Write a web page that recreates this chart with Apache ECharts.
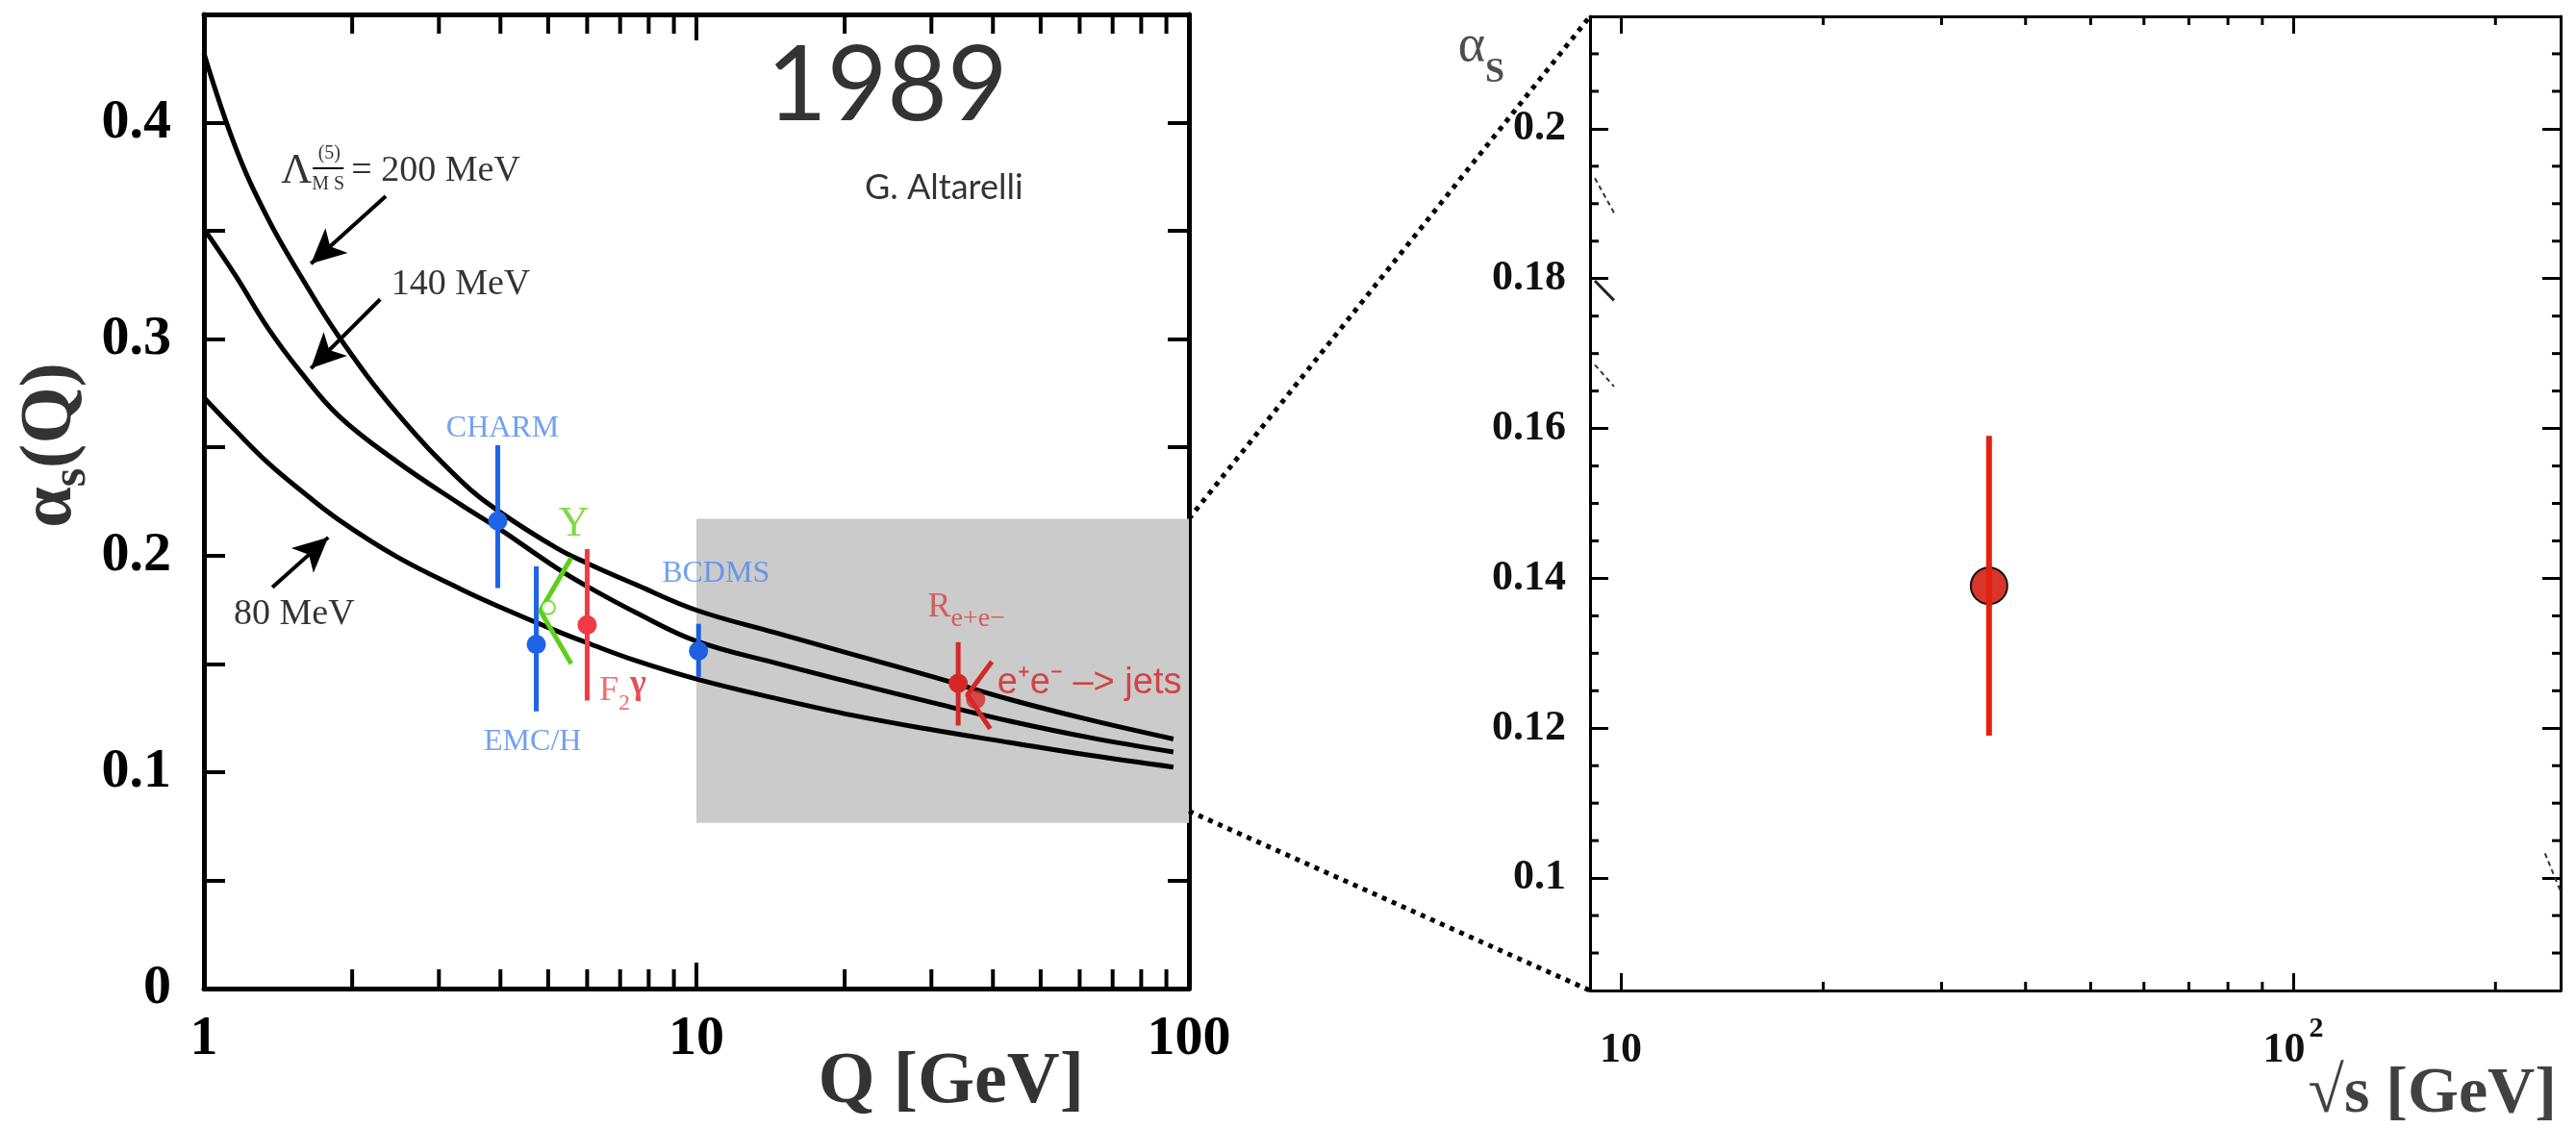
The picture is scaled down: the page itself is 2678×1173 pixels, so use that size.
<!DOCTYPE html>
<html>
<head>
<meta charset="utf-8">
<title>alpha_s 1989</title>
<script src="https://cdn.jsdelivr.net/npm/echarts@6.0.0/dist/echarts.min.js"></script>
<style>
  html, body { margin: 0; padding: 0; background: #fff; }
  #chart { width: 2678px; height: 1173px; }
</style>
</head>
<body>
<div id="chart"></div>
<script>
// running coupling curves
const curveQ = [1, 1.162, 1.35, 1.569, 1.879, 2.463, 3.326, 3.97, 5.2, 6.0, 7.55, 10, 14.4, 20.8, 30, 43.4, 62.7, 93];
const alpha200 = [0.432, 0.388, 0.3555, 0.3295, 0.3012, 0.266, 0.2345, 0.2205, 0.2035, 0.1965, 0.1865, 0.1748, 0.1645, 0.1543, 0.1442, 0.1335, 0.1242, 0.1153];
const alpha140 = [0.351, 0.329, 0.305, 0.285, 0.2645, 0.2435, 0.2235, 0.2125, 0.1943, 0.1858, 0.1736, 0.1605, 0.1505, 0.1412, 0.1322, 0.1235, 0.116, 0.1093];
const alpha80 = [0.273, 0.2575, 0.2428, 0.2303, 0.2165, 0.1995, 0.1845, 0.1765, 0.1652, 0.1597, 0.1514, 0.143, 0.1342, 0.1262, 0.1196, 0.1136, 0.1078, 0.1023];

// measurements: Q, central value, error bar ends
const expNames = ['CHARM', 'EMC/H', 'F2γ', 'BCDMS', 'Re+e-'];
const expQ = [3.95, 4.73, 6.0, 10.1, 34];
const expAlpha = [0.216, 0.159, 0.168, 0.156, 0.141];
const expLow = [0.185, 0.128, 0.133, 0.144, 0.1215];
const expHigh = [0.251, 0.195, 0.203, 0.1685, 0.160];

// Upsilon and e+e- -> jets are drawn as chevrons with a dot
const upsQ = [5.57, 4.82, 5.57];
const upsAlpha = [0.199, 0.1745, 0.150];
const jetsQ = [39.8, 35.5, 39.5];
const jetsAlpha = [0.151, 0.1357, 0.120];
const dotQ = [5.0, 36.9];
const dotAlpha = [0.176, 0.1335];

// zoomed region (gray box) and the right-hand panel
const boxQ = [10, 100];
const boxAlpha = [0.0765, 0.217];
const zoomXRange = [9, 250];
const zoomYRange = [0.085, 0.215];
const zoomQ = [35.3];
const zoomAlpha = [0.139];
const zoomLow = [0.119];
const zoomHigh = [0.159];

// leftovers of the original curves at the panel edges
const fragQ = [9.15, 9.77];
const fragDashA = [0.1934, 0.1888];
const fragSolidA = [0.1797, 0.1771];
const fragDashB = [0.1685, 0.1656];
const fragEdgeQ = [237, 250];
const fragEdgeA = [0.1033, 0.0982];

// tick values
const leftYTicks = [0, 0.05, 0.1, 0.15, 0.2, 0.25, 0.3, 0.35, 0.4];
const leftYLabels = [0, 0.1, 0.2, 0.3, 0.4];
const leftMinorQ = [2, 3, 4, 5, 6, 7, 8, 9, 20, 30, 40, 50, 60, 70, 80, 90];
const rightYLabels = [0.1, 0.12, 0.14, 0.16, 0.18, 0.2];
const rightMinorAlpha = [0.09, 0.095, 0.105, 0.11, 0.115, 0.125, 0.13, 0.135, 0.145, 0.15, 0.155,
  0.165, 0.17, 0.175, 0.185, 0.19, 0.195, 0.205, 0.21];
const rightXLabels = [10, 100];
const rightMinorQ = [20, 30, 40, 50, 60, 70, 80, 90, 200];

// arrows from the curve labels (tail, head centre)
const arrowFrom = [[2.34, 0.366], [2.28, 0.3184], [1.377, 0.1854]];
const arrowTo = [[1.649, 0.3348], [1.649, 0.2865], [1.788, 0.2084]];

const SERIF = "'Liberation Serif', 'Times New Roman', serif";
const expColors = ['#1e63e8', '#1e63e8', '#f23a44', '#1e5fe0', '#d42828'];
const blueText = '#4f88f0';

const chart = echarts.init(document.getElementById('chart'));

function xAxisCfg(grid, pos, range, showLabel, extra) {
  return Object.assign({
    gridIndex: grid, type: 'log', logBase: 10, min: range[0], max: range[1], position: pos,
    axisLine: { show: true, onZero: false, lineStyle: { color: '#000', width: grid === 0 ? 5 : 3 } },
    axisTick: { show: true, inside: true, length: grid === 0 ? 27 : 18, lineStyle: { color: '#000', width: grid === 0 ? 4 : 3 } },
    axisLabel: { show: showLabel },
    splitLine: { show: false },
    minorTick: { show: false }
  }, extra || {});
}

function yAxisCfg(grid, pos, range, showLabel, extra) {
  return Object.assign({
    gridIndex: grid, type: 'value', min: range[0], max: range[1], position: pos,
    axisLine: { show: true, onZero: false, lineStyle: { color: '#000', width: grid === 0 ? 5 : 3 } },
    axisTick: { show: true, inside: true, length: grid === 0 ? 22 : 18, lineStyle: { color: '#000', width: grid === 0 ? 4 : 3 } },
    axisLabel: { show: showLabel },
    splitLine: { show: false }
  }, extra || {});
}

// minor ticks on log / fine axes, drawn inward on both sides of the frame
function minorTicks(xi, yi, values, dir, len, width) {
  return {
    type: 'custom', xAxisIndex: xi, yAxisIndex: yi, silent: true, z: 6,
    data: values,
    renderItem: function (params, api) {
      const cs = params.coordSys;
      const st = { stroke: '#000', lineWidth: width };
      if (dir === 'x') {
        const x = api.coord([api.value(0), api.value(1)])[0];
        return { type: 'group', children: [
          { type: 'line', shape: { x1: x, y1: cs.y + cs.height, x2: x, y2: cs.y + cs.height - len }, style: st },
          { type: 'line', shape: { x1: x, y1: cs.y, x2: x, y2: cs.y + len }, style: st }
        ] };
      }
      const y = api.coord([api.value(0), api.value(1)])[1];
      return { type: 'group', children: [
        { type: 'line', shape: { x1: cs.x, y1: y, x2: cs.x + len, y2: y }, style: st },
        { type: 'line', shape: { x1: cs.x + cs.width, y1: y, x2: cs.x + cs.width - len, y2: y }, style: st }
      ] };
    }
  };
}

function curve(name, values) {
  return {
    name: name, type: 'line', xAxisIndex: 0, yAxisIndex: 0, z: 3,
    smooth: 0.4, showSymbol: false, silent: true,
    lineStyle: { color: '#000', width: 5 },
    data: curveQ.map((q, i) => [q, values[i]])
  };
}

function note(text, q, a, label) {
  return { value: [q, a], label: Object.assign({ show: true, formatter: () => text, position: 'inside' }, label) };
}

const mono = { fontFamily: SERIF, fontSize: 38, color: '#000' };
const leftNotes = [
  note('1989', 24.4, 0.4164, { fontFamily: "'Liberation Sans Narrow', 'Lato', sans-serif", fontSize: 108, color: '#000', letterSpacing: -7 }),
  note('G. Altarelli', 31.8, 0.370, { fontFamily: "'Lato', sans-serif", fontSize: 36, color: '#000' }),
  note('Λ', 1.541, 0.3774, { fontFamily: SERIF, fontSize: 44, color: '#000' }),
  note('(5)', 1.797, 0.3858, { fontFamily: SERIF, fontSize: 20, color: '#000' }),
  note('M S', 1.788, 0.3716, { fontFamily: SERIF, fontSize: 20, color: '#000' }),
  note('= 200 MeV', 1.993, 0.3774, Object.assign({ position: 'right', distance: 0 }, mono)),
  note('140 MeV', 2.40, 0.325, Object.assign({ position: 'right', distance: 0 }, mono)),
  note('80 MeV', 1.15, 0.173, Object.assign({ position: 'right', distance: 0 }, mono)),
  note('CHARM', 4.04, 0.2585, { fontFamily: SERIF, fontSize: 32, color: blueText }),
  note('EMC/H', 4.65, 0.114, { fontFamily: SERIF, fontSize: 32, color: blueText }),
  note('BCDMS', 10.95, 0.1916, { fontFamily: SERIF, fontSize: 32, color: blueText }),
  note('Υ', 5.64, 0.2142, { fontFamily: SERIF, fontSize: 44, color: '#62cf1a' }),
  note('{f|F}{s|2}{g|γ}', 6.35, 0.1375, { position: 'right', distance: 0, rich: {
    f: { fontFamily: SERIF, fontSize: 36, color: '#f04a4a', lineHeight: 50, verticalAlign: 'middle' },
    s: { fontFamily: SERIF, fontSize: 24, color: '#f04a4a', lineHeight: 24, verticalAlign: 'bottom' },
    g: { fontFamily: SERIF, fontSize: 36, fontWeight: 'bold', color: '#e3202a', lineHeight: 32, verticalAlign: 'top' }
  } }),
  note('{r|R}{s|e+e−}', 29.5, 0.1743, { position: 'right', distance: 0, rich: {
    r: { fontFamily: SERIF, fontSize: 36, color: '#d84040', lineHeight: 44, verticalAlign: 'top' },
    s: { fontFamily: SERIF, fontSize: 28, color: '#d84040', lineHeight: 28, verticalAlign: 'bottom' }
  } }),
  note('e⁺e⁻ –> jets', 40.8, 0.141, { position: 'right', distance: 0, fontFamily: "'Liberation Sans', sans-serif", fontSize: 38, color: '#d42020' }),
  note('Q [GeV]', 32.9, -0.0439, { fontFamily: SERIF, fontWeight: 'bold', fontSize: 76, color: '#000' }),
  note('{a|α}{s|s}{a|(Q)}', 0.4996, 0.251, { rotate: 90, rich: {
    a: { fontFamily: SERIF, fontWeight: 'bold', fontSize: 76, color: '#000', lineHeight: 84, verticalAlign: 'top' },
    s: { fontFamily: SERIF, fontWeight: 'bold', fontSize: 50, color: '#000', lineHeight: 50, verticalAlign: 'bottom' }
  } })
];

const rightNotes = [
  note('{a|α}{s|S}', 6.2, 0.2098, { rich: {
    a: { fontFamily: SERIF, fontSize: 54, color: '#222', lineHeight: 72, verticalAlign: 'top' },
    s: { fontFamily: SERIF, fontWeight: 'bold', fontSize: 36, color: '#222', lineHeight: 36, verticalAlign: 'bottom' }
  } }),
  note('√s [GeV]', 246.6, 0.0711, { position: 'left', distance: 0, fontFamily: SERIF, fontWeight: 'bold', fontSize: 68, color: '#111' })
];

const option = {
  backgroundColor: '#fff',
  animation: false,
  grid: [
    { left: 212, top: 15, width: 1024, height: 1013, containLabel: false, outerBoundsMode: 'none' },
    { left: 1653, top: 17, width: 1009, height: 1013, containLabel: false, outerBoundsMode: 'none' }
  ],
  xAxis: [
    xAxisCfg(0, 'bottom', [1, 100], true, {
      axisLabel: { show: true, fontFamily: SERIF, fontWeight: 'bold', fontSize: 58, color: '#000', margin: 24 }
    }),
    xAxisCfg(0, 'top', [1, 100], false),
    xAxisCfg(1, 'bottom', zoomXRange, true, {
      axisTick: { show: true, inside: true, length: 18, customValues: rightXLabels, lineStyle: { color: '#000', width: 3 } },
      axisLabel: {
        show: true, customValues: rightXLabels, margin: 25,
        fontFamily: SERIF, fontWeight: 'bold', fontSize: 44, color: '#111',
        formatter: v => (v >= 100 ? '{b|10}{p|2}' : '{b|10}'),
        rich: {
          b: { fontFamily: SERIF, fontWeight: 'bold', fontSize: 44, color: '#111', lineHeight: 60, verticalAlign: 'bottom' },
          p: { fontFamily: SERIF, fontWeight: 'bold', fontSize: 30, color: '#111', lineHeight: 30, verticalAlign: 'top', padding: [0, 0, 0, 4] }
        }
      }
    }),
    xAxisCfg(1, 'top', zoomXRange, false, {
      axisTick: { show: true, inside: true, length: 18, customValues: rightXLabels, lineStyle: { color: '#000', width: 3 } }
    })
  ],
  yAxis: [
    yAxisCfg(0, 'left', [0, 0.45], true, {
      axisTick: { show: true, inside: true, length: 22, customValues: leftYTicks, lineStyle: { color: '#000', width: 4 } },
      axisLabel: { show: true, customValues: leftYLabels, fontFamily: SERIF, fontWeight: 'bold', fontSize: 58, color: '#000', margin: 34 }
    }),
    yAxisCfg(0, 'right', [0, 0.45], false, {
      axisTick: { show: true, inside: true, length: 22, customValues: leftYTicks, lineStyle: { color: '#000', width: 4 } }
    }),
    yAxisCfg(1, 'left', zoomYRange, true, {
      axisTick: { show: true, inside: true, length: 19, customValues: rightYLabels, lineStyle: { color: '#000', width: 3 } },
      axisLabel: { show: true, customValues: rightYLabels, fontFamily: SERIF, fontWeight: 'bold', fontSize: 44, color: '#111', margin: 25 }
    }),
    yAxisCfg(1, 'right', zoomYRange, false, {
      axisTick: { show: true, inside: true, length: 19, customValues: rightYLabels, lineStyle: { color: '#000', width: 3 } }
    })
  ],
  series: [
    {
      // gray box marking the zoomed region
      type: 'line', xAxisIndex: 0, yAxisIndex: 0, z: 1, data: [], silent: true,
      markArea: {
        silent: true,
        itemStyle: { color: '#cbcbcb' },
        data: [[{ coord: [boxQ[0], boxAlpha[0]] }, { coord: [boxQ[1], boxAlpha[1]] }]]
      }
    },
    {
      // arrows from the curve labels, and the bar of the MS-bar fraction
      type: 'line', xAxisIndex: 0, yAxisIndex: 0, z: 4, data: [], silent: true,
      markLine: {
        silent: true, animation: false,
        symbol: ['none', 'arrow'], symbolSize: 32,
        label: { show: false },
        lineStyle: { color: '#000', width: 4, type: 'solid' },
        data: arrowFrom.map((f, i) => [{ coord: f }, { coord: arrowTo[i], symbolSize: [26, 36] }]).concat([
          [{ coord: [1.664, 0.3792], symbol: 'none' }, { coord: [1.922, 0.3792], symbol: 'none', lineStyle: { width: 2 } }]
        ])
      }
    },
    curve('200 MeV', alpha200),
    curve('140 MeV', alpha140),
    curve('80 MeV', alpha80),
    {
      type: 'custom', xAxisIndex: 0, yAxisIndex: 0, z: 5, silent: true,
      data: expQ.map((q, i) => [q, expAlpha[i], expLow[i], expHigh[i]]),
      renderItem: function (params, api) {
        const c = api.coord([api.value(0), api.value(1)]);
        const lo = api.coord([api.value(0), api.value(2)]);
        const hi = api.coord([api.value(0), api.value(3)]);
        const color = expColors[params.dataIndex];
        return { type: 'group', children: [
          { type: 'line', shape: { x1: c[0], y1: lo[1], x2: c[0], y2: hi[1] }, style: { stroke: color, lineWidth: 5 } },
          { type: 'circle', shape: { cx: c[0], cy: c[1], r: 10 }, style: { fill: color } }
        ] };
      }
    },
    {
      name: 'Upsilon', type: 'line', xAxisIndex: 0, yAxisIndex: 0, z: 5, silent: true, showSymbol: false,
      lineStyle: { color: '#5ecf1c', width: 5 },
      data: upsQ.map((q, i) => [q, upsAlpha[i]])
    },
    {
      name: 'jets', type: 'line', xAxisIndex: 0, yAxisIndex: 0, z: 5, silent: true, showSymbol: false,
      lineStyle: { color: '#d42828', width: 5 },
      data: jetsQ.map((q, i) => [q, jetsAlpha[i]])
    },
    {
      type: 'scatter', xAxisIndex: 0, yAxisIndex: 0, z: 6, silent: true,
      data: [
        { value: [dotQ[0], dotAlpha[0]], symbol: 'emptyCircle', symbolSize: 14, itemStyle: { color: '#5ecf1c', borderColor: '#5ecf1c', borderWidth: 4 } },
        { value: [dotQ[1], dotAlpha[1]], symbol: 'circle', symbolSize: 20, itemStyle: { color: '#d42828' } }
      ]
    },
    minorTicks(0, 0, leftMinorQ.map(q => [q, 0]), 'x', 20, 4),
    minorTicks(2, 2, rightMinorQ.map(q => [q, zoomYRange[0]]), 'x', 9, 3),
    minorTicks(2, 2, rightMinorAlpha.map(a => [zoomXRange[0], a]), 'y', 9, 3),
    {
      type: 'custom', xAxisIndex: 2, yAxisIndex: 2, z: 5, silent: true,
      data: zoomQ.map((q, i) => [q, zoomAlpha[i], zoomLow[i], zoomHigh[i]]),
      renderItem: function (params, api) {
        const c = api.coord([api.value(0), api.value(1)]);
        const lo = api.coord([api.value(0), api.value(2)]);
        const hi = api.coord([api.value(0), api.value(3)]);
        return { type: 'group', children: [
          { type: 'circle', shape: { cx: c[0], cy: c[1], r: 19 }, style: { fill: '#d8352b', stroke: '#111', lineWidth: 2 } },
          { type: 'line', shape: { x1: c[0], y1: lo[1], x2: c[0], y2: hi[1] }, style: { stroke: '#e3210c', lineWidth: 6 } }
        ] };
      }
    },
    {
      type: 'line', xAxisIndex: 2, yAxisIndex: 2, z: 4, silent: true, showSymbol: false,
      lineStyle: { color: '#333', width: 2, type: [5, 4] },
      data: fragQ.map((q, i) => [q, fragDashA[i]])
    },
    {
      type: 'line', xAxisIndex: 2, yAxisIndex: 2, z: 4, silent: true, showSymbol: false,
      lineStyle: { color: '#222', width: 3 },
      data: fragQ.map((q, i) => [q, fragSolidA[i]])
    },
    {
      type: 'line', xAxisIndex: 2, yAxisIndex: 2, z: 4, silent: true, showSymbol: false,
      lineStyle: { color: '#333', width: 2, type: [5, 4] },
      data: fragQ.map((q, i) => [q, fragDashB[i]])
    },
    {
      type: 'line', xAxisIndex: 2, yAxisIndex: 2, z: 4, silent: true, showSymbol: false,
      lineStyle: { color: '#333', width: 2, type: [5, 4] },
      data: fragEdgeQ.map((q, i) => [q, fragEdgeA[i]])
    },
    {
      type: 'scatter', xAxisIndex: 0, yAxisIndex: 0, z: 7, silent: true, clip: false, symbolSize: 0,
      data: leftNotes
    },
    {
      type: 'scatter', xAxisIndex: 2, yAxisIndex: 2, z: 7, silent: true, clip: false, symbolSize: 0,
      data: rightNotes
    }
  ]
};

chart.setOption(option);

// dotted connectors from the gray box to the zoomed panel
const boxTop = chart.convertToPixel({ xAxisIndex: 0, yAxisIndex: 0 }, [boxQ[1], boxAlpha[1]]);
const boxLow = chart.convertToPixel({ xAxisIndex: 0, yAxisIndex: 0 }, [boxQ[1], 0.082]);
const panelTop = chart.convertToPixel({ xAxisIndex: 2, yAxisIndex: 2 }, [zoomXRange[0], zoomYRange[1]]);
const panelLow = chart.convertToPixel({ xAxisIndex: 2, yAxisIndex: 2 }, [zoomXRange[0], zoomYRange[0]]);
const dotted = { stroke: '#000', lineWidth: 5, lineDash: [5, 6] };
chart.setOption({
  graphic: [
    { type: 'line', z: 20, silent: true, shape: { x1: boxTop[0], y1: boxTop[1], x2: panelTop[0], y2: panelTop[1] }, style: dotted },
    { type: 'line', z: 20, silent: true, shape: { x1: boxLow[0], y1: boxLow[1], x2: panelLow[0], y2: panelLow[1] }, style: dotted }
  ]
});

window.addEventListener('resize', chart.resize);
</script>
</body>
</html>
